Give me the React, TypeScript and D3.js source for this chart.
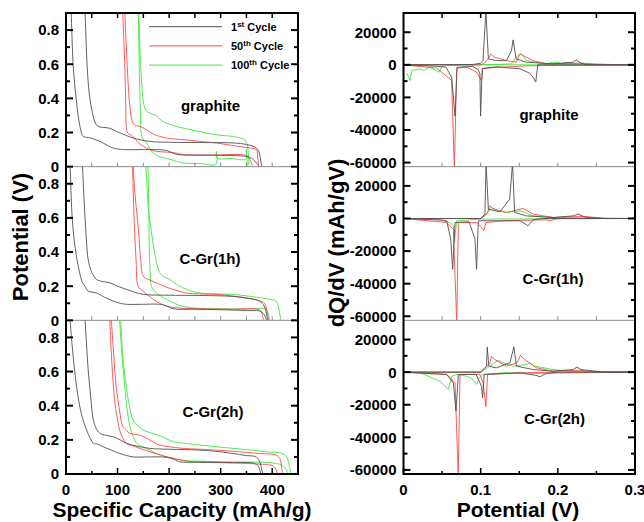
import React from 'react';
import * as d3 from 'd3';

type P = [number, number];

// ---------- tick values ----------
const capMajorTicks = [0, 100, 200, 300, 400];
const capMinorTicks = [50, 150, 250, 350];
const capAllTicks = [50, 100, 150, 200, 250, 300, 350, 400];
const potMajorTicks = [0, 0.2, 0.4, 0.6, 0.8];
const potMinorTicks = [0.1, 0.3, 0.5, 0.7];
const vMajorTicks = [0, 0.1, 0.2, 0.3];
const vMinorTicks = [0.05, 0.15, 0.25];
const vAllTicks = [0.05, 0.1, 0.15, 0.2, 0.25];
const dqMajorTicks = [20000, 0, -20000, -40000, -60000];
const dqMinorTicks = [10000, -10000, -30000, -50000];

const cycleLabels = ['1', '50', '100'];
const cycleSups = ['st', 'th', 'th'];
const cycleColors = ['#505050', '#ff4a4a', '#3ee83e'];
const panelNames = ['graphite', 'C-Gr(1h)', 'C-Gr(2h)'];

// ---------- charge / discharge curves: [capacity mAh/g, potential V] ----------
const graphite1Low: P[] = [[9,0.95],[10,0.9],[14,0.59],[19,0.42],[24,0.29],[29,0.21],[33,0.177],[40,0.172],[46,0.17],[55,0.16],[66,0.148],[80,0.125],[92,0.109],[111,0.1],[150,0.1],[195,0.095],[214,0.072],[250,0.068],[300,0.066],[349,0.06],[362,0.045],[370,0.02],[375,0]];
const graphite1High: P[] = [[36,0.95],[37,0.9],[41,0.59],[45,0.43],[50,0.333],[55,0.27],[59,0.245],[66,0.232],[72,0.23],[85,0.225],[98,0.206],[115,0.185],[130,0.168],[162,0.148],[200,0.143],[260,0.141],[324,0.139],[350,0.13],[369,0.11],[375,0.08],[378,0.03],[380,0]];
const graphite50Low: P[] = [[109,0.95],[110,0.9],[114,0.59],[116,0.35],[117,0.236],[120,0.196],[130,0.177],[140,0.14],[150,0.119],[162,0.1],[175,0.09],[195,0.085],[214,0.08],[230,0.07],[280,0.068],[349,0.066],[355,0.05],[362,0]];
const graphite50High: P[] = [[113,0.95],[114,0.9],[117,0.7],[120.5,0.49],[124,0.35],[130,0.255],[137,0.24],[143,0.236],[156,0.216],[170,0.19],[182,0.177],[200,0.165],[227,0.158],[260,0.148],[291,0.139],[320,0.125],[349,0.112],[369,0.1],[372,0.05],[374,0]];
const graphite100Low: P[] = [[139,0.95],[140,0.9],[142,0.6],[144,0.35],[146.6,0.18],[150,0.16],[156,0.139],[162,0.11],[169,0.08],[180,0.06],[195,0.048],[210,0.035],[227,0.022],[260,0.018],[291,0.015],[291.5,0.09],[293,0.05],[320,0.048],[349,0.045],[349.5,0.1],[351,0.05],[352,0]];
const graphite100High: P[] = [[140,0.95],[141,0.9],[144,0.65],[147,0.48],[149.6,0.39],[155,0.33],[162,0.314],[175,0.3],[185,0.27],[195,0.255],[210,0.24],[227,0.226],[259,0.206],[291,0.187],[323,0.177],[345,0.16],[349,0.148],[352,0.12],[354,0.06],[355,0]];

const cgr1h1Low: P[] = [[7,0.95],[8,0.9],[12,0.6],[18,0.42],[25,0.3],[32,0.22],[37,0.2],[43,0.171],[50,0.166],[59,0.16],[75,0.135],[91.5,0.113],[105,0.1],[117,0.094],[150,0.094],[182,0.094],[195,0.085],[208,0.068],[250,0.065],[300,0.062],[350,0.058],[375,0.055],[383,0.04],[389,0]];
const cgr1h1High: P[] = [[31,0.95],[32,0.9],[36,0.65],[40,0.45],[43,0.357],[50,0.28],[59,0.24],[70,0.228],[85,0.22],[100,0.2],[117,0.181],[133,0.165],[150,0.152],[200,0.147],[250,0.146],[324,0.14],[350,0.13],[375,0.113],[385,0.08],[390,0.02],[391,0]];
const cgr1h50Low: P[] = [[128,0.95],[129,0.9],[132,0.6],[136,0.35],[140,0.2],[149.6,0.17],[160,0.145],[169,0.123],[182,0.1],[195,0.082],[220,0.072],[260,0.068],[320,0.065],[375,0.062],[380,0.04],[383,0]];
const cgr1h50High: P[] = [[129,0.95],[130,0.9],[135,0.7],[140,0.55],[145,0.35],[149.6,0.26],[159,0.24],[175,0.22],[190,0.2],[207.6,0.181],[233,0.16],[260,0.155],[291.5,0.152],[330,0.14],[375,0.115],[385,0.1],[390,0.05],[393,0]];
const cgr1h100Low: P[] = [[158,0.95],[159,0.9],[161,0.55],[162,0.357],[164,0.25],[165.6,0.2],[175,0.16],[185,0.14],[195,0.123],[210,0.1],[227,0.082],[250,0.072],[300,0.068],[350,0.066],[389,0.065],[392,0.04],[395,0]];
const cgr1h100High: P[] = [[153,0.95],[155,0.9],[160,0.65],[169,0.45],[175,0.35],[182,0.279],[190,0.255],[201,0.24],[215,0.21],[227,0.19],[259,0.16],[290,0.155],[323.6,0.152],[375,0.133],[400,0.12],[407.5,0.113],[412,0.08],[415,0.03],[417,0]];

const cgr2h1Low: P[] = [[7,0.95],[8,0.9],[12,0.75],[20.6,0.51],[30,0.35],[40,0.257],[47,0.21],[53,0.18],[62,0.175],[72,0.16],[88,0.14],[104,0.12],[118,0.108],[130,0.1],[160,0.1],[195,0.098],[210,0.085],[220.5,0.072],[260,0.068],[320,0.066],[362.6,0.064],[372,0.05],[378,0]];
const cgr2h1High: P[] = [[36,0.95],[37,0.9],[40,0.75],[43,0.61],[48,0.45],[53,0.316],[59,0.265],[66,0.238],[80,0.225],[91.5,0.218],[105,0.2],[117,0.18],[135,0.165],[162.5,0.15],[200,0.145],[259,0.14],[300,0.13],[323.6,0.12],[350,0.108],[369,0.1],[376,0.07],[380,0.02],[382,0]];
const cgr2h50Low: P[] = [[84,0.95],[85,0.9],[88,0.7],[95,0.41],[100,0.32],[104,0.257],[110,0.21],[117,0.18],[130,0.165],[143,0.15],[160,0.133],[175,0.12],[190,0.105],[207.6,0.092],[230,0.078],[246,0.072],[270,0.072],[300,0.068],[350,0.062],[389,0.055],[400,0.05],[407,0.03],[410,0]];
const cgr2h50High: P[] = [[87,0.95],[88,0.9],[92,0.72],[97.5,0.51],[104,0.37],[110,0.28],[117,0.255],[124,0.238],[133,0.232],[143,0.228],[156,0.21],[170,0.185],[182,0.17],[200,0.16],[227,0.15],[260,0.145],[291,0.14],[330,0.132],[375,0.12],[407.5,0.111],[415,0.09],[418,0.04],[420,0]];
const cgr2h100Low: P[] = [[103,0.95],[104,0.9],[108,0.72],[114,0.51],[119,0.37],[124,0.277],[130,0.22],[137,0.18],[146,0.163],[156,0.15],[175,0.12],[195,0.1],[210,0.09],[227,0.08],[260,0.075],[300,0.072],[350,0.07],[389,0.068],[410,0.06],[420,0.05],[428,0.02],[431,0]];
const cgr2h100High: P[] = [[105,0.95],[106,0.9],[110,0.7],[117,0.51],[123,0.4],[130,0.316],[140,0.28],[149.6,0.257],[160,0.245],[169,0.238],[185,0.22],[207.6,0.19],[230,0.18],[259,0.17],[290,0.16],[323.6,0.15],[360,0.14],[388,0.13],[420,0.12],[428,0.1],[433,0.05],[436,0]];

// ---------- dQ/dV curves: [potential V, dQ/dV mAh/gV] ----------
const graphiteDq1Neg: P[] = [[0,0],[0.04,-800],[0.055,-1400],[0.0624,-7600],[0.0668,-31500],[0.0695,-1500],[0.09,-1000],[0.097,-3000],[0.099,-5500],[0.0999,-31500],[0.102,-2500],[0.12,-1200],[0.151,-2500],[0.163,-5000],[0.168,-7600],[0.1714,-10600],[0.174,0],[0.3,0]];
const graphiteDq1Pos: P[] = [[0,0],[0.09,200],[0.1,1000],[0.103,2600],[0.1068,33000],[0.11,3700],[0.12,2600],[0.1335,2600],[0.14,8800],[0.142,15300],[0.146,3700],[0.159,1600],[0.194,600],[0.22,1600],[0.224,3000],[0.228,1600],[0.236,0],[0.3,0]];
const graphiteDq50Neg: P[] = [[0,0],[0.043,-2000],[0.0624,-9600],[0.0659,-64000],[0.0689,-2000],[0.082,-1400],[0.0947,-4500],[0.101,-9600],[0.103,-2000],[0.13,-1400],[0.16,-600],[0.3,0]];
const graphiteDq50Pos: P[] = [[0,0],[0.1,0],[0.105,1000],[0.11,3700],[0.113,6700],[0.118,4700],[0.1335,2600],[0.146,1600],[0.151,6700],[0.155,5700],[0.168,2600],[0.185,600],[0.228,1000],[0.241,600],[0.25,0],[0.3,0]];
const graphiteDq100Neg: P[] = [[0.004,-5000],[0.0086,-9600],[0.0108,-3500],[0.0215,-2500],[0.026,-3500],[0.0345,-1400],[0.04,-3000],[0.047,-4500],[0.0495,-600],[0.07,-300],[0.1,0],[0.3,0]];
const graphiteDq100Pos: P[] = [[0.004,0],[0.1,0],[0.14,500],[0.146,4700],[0.151,6700],[0.155,5700],[0.159,2600],[0.17,1600],[0.185,600],[0.194,1600],[0.2,1600],[0.205,600],[0.21,1600],[0.22,600],[0.23,1000],[0.27,200],[0.3,0]];

const cgr1hDq1Neg: P[] = [[0,0],[0.05,-1000],[0.056,-1400],[0.0612,-12700],[0.0637,-31200],[0.0668,-2500],[0.085,-2000],[0.0926,-12700],[0.0947,-31200],[0.097,-1400],[0.13,-1400],[0.151,-1400],[0.1615,-4500],[0.168,-800],[0.18,0],[0.3,0]];
const cgr1hDq1Pos: P[] = [[0,0],[0.1,0],[0.1055,2700],[0.107,34000],[0.11,5700],[0.125,4100],[0.1376,11900],[0.1413,34000],[0.144,3700],[0.159,1600],[0.194,600],[0.22,1600],[0.226,2700],[0.237,600],[0.26,0],[0.3,0]];
const cgr1hDq50Neg: P[] = [[0,0],[0.056,-2500],[0.0646,-6600],[0.069,-64000],[0.0711,-2500],[0.095,-2500],[0.101,-5500],[0.104,-7600],[0.1068,-2500],[0.13,-1400],[0.185,-800],[0.19,-1400],[0.2,0],[0.3,0]];
const cgr1hDq50Pos: P[] = [[0,0],[0.1,0],[0.108,2700],[0.112,7800],[0.116,6100],[0.1335,3700],[0.151,5700],[0.155,6100],[0.168,2700],[0.194,600],[0.228,1200],[0.237,1200],[0.26,0],[0.3,0]];
const cgr1hDq100Neg: P[] = [[0,0],[0.043,-400],[0.06,-2500],[0.0646,-4500],[0.066,-14800],[0.0689,-1400],[0.1,-400],[0.3,0]];
const cgr1hDq100Pos: P[] = [[0,0],[0.1,0],[0.1098,3700],[0.114,6800],[0.12,4700],[0.1335,3700],[0.151,4700],[0.157,3700],[0.168,1600],[0.194,600],[0.3,0]];

const cgr2hDq1Neg: P[] = [[0,0],[0.056,-1400],[0.0646,-6500],[0.068,-23900],[0.0711,-1400],[0.094,-1400],[0.101,-8600],[0.1025,-15700],[0.1046,-1400],[0.151,-400],[0.172,-2000],[0.1766,-2900],[0.185,-800],[0.2,0],[0.3,0]];
const cgr2hDq1Pos: P[] = [[0,0],[0.1,0],[0.1077,3700],[0.1085,15500],[0.1106,3700],[0.12,2600],[0.138,5700],[0.143,15500],[0.1464,3700],[0.168,1600],[0.194,600],[0.22,1600],[0.2248,3100],[0.23,1600],[0.26,0],[0.3,0]];
const cgr2hDq50Neg: P[] = [[0,0],[0.056,-1400],[0.0668,-6500],[0.071,-64000],[0.0732,-1400],[0.099,-1400],[0.103,-6500],[0.1068,-21200],[0.109,-1400],[0.151,-400],[0.2,0],[0.3,0]];
const cgr2hDq50Pos: P[] = [[0,0],[0.1,0],[0.112,5700],[0.114,9800],[0.118,7800],[0.1335,3700],[0.147,5700],[0.1516,10200],[0.157,7800],[0.172,2700],[0.194,600],[0.228,1200],[0.237,600],[0.26,0],[0.3,0]];
const cgr2hDq100Neg: P[] = [[0,0],[0.0215,-400],[0.047,-5500],[0.058,-10600],[0.0624,-2500],[0.0689,-1400],[0.082,-2500],[0.09,-4500],[0.0947,-7500],[0.0981,-3500],[0.1033,-1400],[0.129,-400],[0.172,-800],[0.3,0]];
const cgr2hDq100Pos: P[] = [[0,0],[0.1,0],[0.112,3700],[0.1227,7300],[0.129,5700],[0.142,3700],[0.159,4700],[0.1636,5700],[0.17,3700],[0.194,1600],[0.215,600],[0.3,0]];

const capacityCurves: P[][][][] = [
  [[graphite1Low, graphite1High], [graphite50Low, graphite50High], [graphite100Low, graphite100High]],
  [[cgr1h1Low, cgr1h1High], [cgr1h50Low, cgr1h50High], [cgr1h100Low, cgr1h100High]],
  [[cgr2h1Low, cgr2h1High], [cgr2h50Low, cgr2h50High], [cgr2h100Low, cgr2h100High]],
];
const dqdvCurves: P[][][][] = [
  [[graphiteDq1Neg, graphiteDq1Pos], [graphiteDq50Neg, graphiteDq50Pos], [graphiteDq100Neg, graphiteDq100Pos]],
  [[cgr1hDq1Neg, cgr1hDq1Pos], [cgr1hDq50Neg, cgr1hDq50Pos], [cgr1hDq100Neg, cgr1hDq100Pos]],
  [[cgr2hDq1Neg, cgr2hDq1Pos], [cgr2hDq50Neg, cgr2hDq50Pos], [cgr2hDq100Neg, cgr2hDq100Pos]],
];

// ---------- layout ----------
const W = 644, H = 522;
const TOP = 13, BOTTOM = 474;
const PH = (BOTTOM - TOP) / 3;
const LX0 = 66, LX1 = 298;
const RX0 = 403.5, RX1 = 635;
const FONT = "'Liberation Sans', Arial, Helvetica, sans-serif";
const leftLabelPos: P[] = [[210.5, 111], [210, 264], [213, 416.5]];
const rightLabelPos: P[] = [[549, 120], [553, 284], [554.5, 424]];

const xCap = d3.scaleLinear().domain([0, 450]).range([LX0, LX1]);
const xPot = d3.scaleLinear().domain([0, 0.3]).range([RX0, RX1]);

export default function App() {
  const panels = [0, 1, 2];
  const orders = [2, 1, 0];
  return (
    <svg width={W} height={H} style={{ position: 'absolute', left: 0, top: 0, background: '#fff' }} fontFamily={FONT}>
      <defs>
        {panels.map((i) => (
          <clipPath id={`cl${i}`} key={`cl${i}`}>
            <rect x={LX0} y={TOP + i * PH} width={LX1 - LX0} height={PH} />
          </clipPath>
        ))}
        {panels.map((i) => (
          <clipPath id={`cr${i}`} key={`cr${i}`}>
            <rect x={RX0} y={TOP + i * PH} width={RX1 - RX0} height={PH} />
          </clipPath>
        ))}
      </defs>

      {panels.map((i) => {
        const top = TOP + i * PH;
        const bot = top + PH;
        const yL = d3.scaleLinear().domain([0, 0.9]).range([bot, top]);
        const yR = d3.scaleLinear().domain([-62500, 31800]).range([bot, top]);
        const lineL = d3.line<P>().x((d) => xCap(d[0])).y((d) => yL(d[1])).curve(d3.curveCatmullRom.alpha(0.5));
        const lineR = d3.line<P>().x((d) => xPot(d[0])).y((d) => yR(d[1]));
        return (
          <g key={`p${i}`}>
            {/* curves */}
            <g clipPath={`url(#cl${i})`}>
              {orders.map((c) =>
                capacityCurves[i][c].map((arr, k) => (
                  <path key={`l${c}${k}`} d={lineL(arr) || ''} fill="none" stroke={cycleColors[c]} strokeWidth={0.9} />
                ))
              )}
            </g>
            <g clipPath={`url(#cr${i})`}>
              {orders.map((c) =>
                dqdvCurves[i][c].map((arr, k) => (
                  <path key={`r${c}${k}`} d={lineR(arr) || ''} fill="none" stroke={cycleColors[c]} strokeWidth={0.9} />
                ))
              )}
            </g>

            {/* separator with ticks (bottom axis of upper panels) */}
            {i < 2 && (
              <g>
                <line x1={LX0} x2={LX1} y1={bot} y2={bot} stroke="#8a8a8a" strokeWidth={1} />
                {capAllTicks.map((t) => (
                  <line key={`st${t}`} x1={xCap(t)} x2={xCap(t)} y1={bot} y2={bot - 4} stroke="#8a8a8a" strokeWidth={1} />
                ))}
                <line x1={RX0} x2={RX1} y1={bot} y2={bot} stroke="#8a8a8a" strokeWidth={1} />
                {vAllTicks.map((t) => (
                  <line key={`sr${t}`} x1={xPot(t)} x2={xPot(t)} y1={bot} y2={bot - 4} stroke="#8a8a8a" strokeWidth={1} />
                ))}
              </g>
            )}

            {/* left y ticks */}
            {potMajorTicks.map((t) => (
              <g key={`ly${t}`}>
                <line x1={LX0} x2={LX0 + 7} y1={yL(t)} y2={yL(t)} stroke="#000" strokeWidth={2} />
                <line x1={LX1} x2={LX1 - 7} y1={yL(t)} y2={yL(t)} stroke="#000" strokeWidth={2} />
                <text x={LX0 - 7} y={yL(t)} dy="0.36em" textAnchor="end" fontSize={15} fontWeight="bold">{t === 0 ? '0' : t.toFixed(1)}</text>
              </g>
            ))}
            {potMinorTicks.map((t) => (
              <g key={`lym${t}`}>
                <line x1={LX0} x2={LX0 + 4} y1={yL(t)} y2={yL(t)} stroke="#000" strokeWidth={2} />
                <line x1={LX1} x2={LX1 - 4} y1={yL(t)} y2={yL(t)} stroke="#000" strokeWidth={2} />
              </g>
            ))}
            {/* right y ticks */}
            {dqMajorTicks.map((t) => (
              <g key={`ry${t}`}>
                <line x1={RX0} x2={RX0 + 7} y1={yR(t)} y2={yR(t)} stroke="#000" strokeWidth={2} />
                <line x1={RX1} x2={RX1 - 7} y1={yR(t)} y2={yR(t)} stroke="#000" strokeWidth={2} />
                <text x={RX0 - 7} y={yR(t)} dy="0.36em" textAnchor="end" fontSize={15} fontWeight="bold">{String(t)}</text>
              </g>
            ))}
            {dqMinorTicks.map((t) => (
              <g key={`rym${t}`}>
                <line x1={RX0} x2={RX0 + 4} y1={yR(t)} y2={yR(t)} stroke="#000" strokeWidth={2} />
                <line x1={RX1} x2={RX1 - 4} y1={yR(t)} y2={yR(t)} stroke="#000" strokeWidth={2} />
              </g>
            ))}

            {/* panel labels */}
            <text x={leftLabelPos[i][0]} y={leftLabelPos[i][1]} textAnchor="middle" fontSize={15} fontWeight="bold">{panelNames[i]}</text>
            <text x={rightLabelPos[i][0]} y={rightLabelPos[i][1]} textAnchor="middle" fontSize={15} fontWeight="bold">{panelNames[i]}</text>
          </g>
        );
      })}

      {/* top edge ticks */}
      {capAllTicks.map((t) => (
        <line key={`tt${t}`} x1={xCap(t)} x2={xCap(t)} y1={TOP} y2={TOP + 5} stroke="#000" strokeWidth={1.5} />
      ))}
      {vAllTicks.map((t) => (
        <line key={`ttr${t}`} x1={xPot(t)} x2={xPot(t)} y1={TOP} y2={TOP + 5} stroke="#000" strokeWidth={1.5} />
      ))}
      {/* bottom axis ticks */}
      {capMajorTicks.map((t) => (
        <g key={`bx${t}`}>
          <line x1={xCap(t)} x2={xCap(t)} y1={BOTTOM} y2={BOTTOM - 6} stroke="#000" strokeWidth={1.5} />
          <text x={xCap(t)} y={494.5} textAnchor="middle" fontSize={15} fontWeight="bold">{String(t)}</text>
        </g>
      ))}
      {capMinorTicks.map((t) => (
        <line key={`bxm${t}`} x1={xCap(t)} x2={xCap(t)} y1={BOTTOM} y2={BOTTOM - 3} stroke="#000" strokeWidth={1.5} />
      ))}
      {vMajorTicks.map((t) => (
        <g key={`bv${t}`}>
          <line x1={xPot(t)} x2={xPot(t)} y1={BOTTOM} y2={BOTTOM - 6} stroke="#000" strokeWidth={1.5} />
          <text x={xPot(t)} y={494.5} textAnchor="middle" fontSize={15} fontWeight="bold">{t === 0 ? '0' : t.toFixed(1)}</text>
        </g>
      ))}
      {vMinorTicks.map((t) => (
        <line key={`bvm${t}`} x1={xPot(t)} x2={xPot(t)} y1={BOTTOM} y2={BOTTOM - 3} stroke="#000" strokeWidth={1.5} />
      ))}

      {/* outer frames */}
      <rect x={LX0} y={TOP} width={LX1 - LX0} height={BOTTOM - TOP} fill="none" stroke="#000" strokeWidth={2} />
      <rect x={RX0} y={TOP} width={RX1 - RX0} height={BOTTOM - TOP} fill="none" stroke="#000" strokeWidth={2} />

      {/* legend */}
      {[0, 1, 2].map((c) => {
        const ly = 26.7 + c * 19.2;
        return (
          <g key={`lg${c}`}>
            <line x1={149} x2={222} y1={ly} y2={ly} stroke={cycleColors[c]} strokeWidth={1} />
            <text x={231} y={ly + 4} fontSize={11} fontWeight="bold">
              {cycleLabels[c]}
              <tspan fontSize={8} dy={-4}>{cycleSups[c]}</tspan>
              <tspan dy={4}>{' Cycle'}</tspan>
            </text>
          </g>
        );
      })}

      {/* axis titles */}
      <text x={182} y={516.5} textAnchor="middle" fontSize={21} fontWeight="bold">Specific Capacity (mAh/g)</text>
      <text x={518} y={516.5} textAnchor="middle" fontSize={21} fontWeight="bold">Potential (V)</text>
      <text transform="translate(28,237) rotate(-90)" textAnchor="middle" fontSize={22} fontWeight="bold">Potential (V)</text>
      <text transform="translate(344,243) rotate(-90)" textAnchor="middle" fontSize={22} fontWeight="bold">dQ/dV (mAh/gV)</text>
    </svg>
  );
}
